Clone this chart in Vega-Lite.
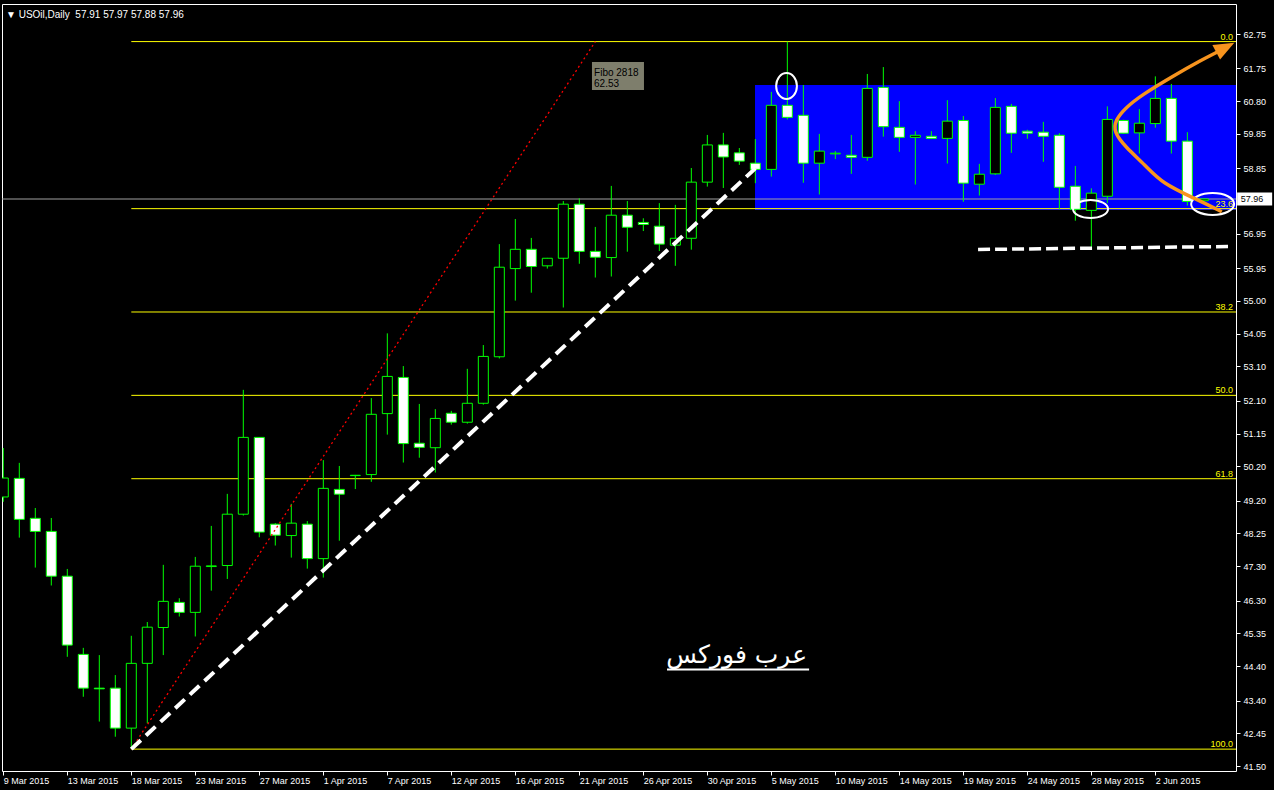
{
  "$schema": "https://vega.github.io/schema/vega-lite/v6.json",
  "autosize": {"type": "none"},
  "padding": {"left": 2, "top": 4, "right": 38, "bottom": 19},
  "width": 1234,
  "height": 767,
  "background": "black",
  "title": {"text": "▼ USOil,Daily\u00a0 57.91 57.97 57.88 57.96", "anchor": "start", "frame": "group", "orient": "top", "offset": -24, "dx": 4, "baseline": "alphabetic", "font": "Liberation Sans", "fontSize": 10, "fontWeight": "normal", "color": "white"},
  "config": {
    "view": {"stroke": "white", "strokeWidth": 1},
    "scale": {"continuousPadding": 0},
    "axis": {"domain": false, "grid": false, "tickColor": "white", "labelColor": "white", "labelFont": "Liberation Sans", "labelFontSize": 9, "tickSize": 4, "labelOverlap": false, "labelBound": false, "labelFlush": false}
  },
  "datasets": {
    "bars": [
      {"i": 0, "date": "9 Mar 2015", "o": 49.31, "h": 50.73, "l": 49.17, "c": 49.86},
      {"i": 1, "date": "10 Mar 2015", "o": 49.85, "h": 50.30, "l": 48.13, "c": 48.66},
      {"i": 2, "date": "11 Mar 2015", "o": 48.69, "h": 48.99, "l": 47.26, "c": 48.31},
      {"i": 3, "date": "12 Mar 2015", "o": 48.31, "h": 48.70, "l": 46.74, "c": 47.01},
      {"i": 4, "date": "13 Mar 2015", "o": 47.01, "h": 47.22, "l": 44.67, "c": 45.01},
      {"i": 5, "date": "15 Mar 2015", "o": 44.74, "h": 44.93, "l": 43.51, "c": 43.76},
      {"i": 6, "date": "16 Mar 2015", "o": 43.76, "h": 44.72, "l": 42.79, "c": 43.74},
      {"i": 7, "date": "17 Mar 2015", "o": 43.76, "h": 44.14, "l": 42.35, "c": 42.60},
      {"i": 8, "date": "18 Mar 2015", "o": 42.60, "h": 45.28, "l": 41.99, "c": 44.48},
      {"i": 9, "date": "19 Mar 2015", "o": 44.48, "h": 45.68, "l": 42.74, "c": 45.53},
      {"i": 10, "date": "20 Mar 2015", "o": 45.52, "h": 47.34, "l": 44.72, "c": 46.28},
      {"i": 11, "date": "22 Mar 2015", "o": 46.25, "h": 46.37, "l": 45.84, "c": 45.96},
      {"i": 12, "date": "23 Mar 2015", "o": 45.96, "h": 47.57, "l": 45.26, "c": 47.30},
      {"i": 13, "date": "24 Mar 2015", "o": 47.29, "h": 48.47, "l": 46.59, "c": 47.31},
      {"i": 14, "date": "25 Mar 2015", "o": 47.32, "h": 49.40, "l": 46.93, "c": 48.81},
      {"i": 15, "date": "26 Mar 2015", "o": 48.81, "h": 52.42, "l": 48.77, "c": 51.04},
      {"i": 16, "date": "27 Mar 2015", "o": 51.04, "h": 51.05, "l": 48.14, "c": 48.29},
      {"i": 17, "date": "29 Mar 2015", "o": 48.52, "h": 48.55, "l": 47.90, "c": 48.20},
      {"i": 18, "date": "30 Mar 2015", "o": 48.19, "h": 49.11, "l": 47.55, "c": 48.55},
      {"i": 19, "date": "31 Mar 2015", "o": 48.52, "h": 48.61, "l": 47.23, "c": 47.52},
      {"i": 20, "date": "1 Apr 2015", "o": 47.52, "h": 50.38, "l": 46.97, "c": 49.56},
      {"i": 21, "date": "2 Apr 2015", "o": 49.53, "h": 50.21, "l": 48.04, "c": 49.39},
      {"i": 22, "date": "5 Apr 2015", "o": 49.93, "h": 49.95, "l": 49.54, "c": 49.94},
      {"i": 23, "date": "6 Apr 2015", "o": 49.96, "h": 52.18, "l": 49.75, "c": 51.71},
      {"i": 24, "date": "7 Apr 2015", "o": 51.73, "h": 54.06, "l": 51.12, "c": 52.81},
      {"i": 25, "date": "8 Apr 2015", "o": 52.78, "h": 53.11, "l": 50.31, "c": 50.86},
      {"i": 26, "date": "9 Apr 2015", "o": 50.87, "h": 52.01, "l": 50.45, "c": 50.75},
      {"i": 27, "date": "10 Apr 2015", "o": 50.74, "h": 51.86, "l": 50.02, "c": 51.59},
      {"i": 28, "date": "12 Apr 2015", "o": 51.74, "h": 51.81, "l": 51.41, "c": 51.48},
      {"i": 29, "date": "13 Apr 2015", "o": 51.48, "h": 53.03, "l": 51.44, "c": 52.03},
      {"i": 30, "date": "14 Apr 2015", "o": 52.03, "h": 53.72, "l": 51.99, "c": 53.39},
      {"i": 31, "date": "15 Apr 2015", "o": 53.38, "h": 56.65, "l": 53.33, "c": 55.98},
      {"i": 32, "date": "16 Apr 2015", "o": 55.94, "h": 57.38, "l": 55.01, "c": 56.50},
      {"i": 33, "date": "17 Apr 2015", "o": 56.50, "h": 56.83, "l": 55.24, "c": 56.00},
      {"i": 34, "date": "19 Apr 2015", "o": 56.02, "h": 56.25, "l": 55.94, "c": 56.24},
      {"i": 35, "date": "20 Apr 2015", "o": 56.24, "h": 57.90, "l": 54.81, "c": 57.81},
      {"i": 36, "date": "21 Apr 2015", "o": 57.81, "h": 57.98, "l": 56.08, "c": 56.44},
      {"i": 37, "date": "22 Apr 2015", "o": 56.44, "h": 57.15, "l": 55.68, "c": 56.27},
      {"i": 38, "date": "23 Apr 2015", "o": 56.26, "h": 58.34, "l": 55.71, "c": 57.49},
      {"i": 39, "date": "24 Apr 2015", "o": 57.49, "h": 57.90, "l": 56.43, "c": 57.14},
      {"i": 40, "date": "26 Apr 2015", "o": 57.28, "h": 57.40, "l": 57.03, "c": 57.22},
      {"i": 41, "date": "27 Apr 2015", "o": 57.17, "h": 57.84, "l": 56.45, "c": 56.65},
      {"i": 42, "date": "28 Apr 2015", "o": 56.62, "h": 57.79, "l": 56.02, "c": 56.82},
      {"i": 43, "date": "29 Apr 2015", "o": 56.82, "h": 58.86, "l": 56.49, "c": 58.45},
      {"i": 44, "date": "30 Apr 2015", "o": 58.45, "h": 59.82, "l": 58.32, "c": 59.53},
      {"i": 45, "date": "1 May 2015", "o": 59.53, "h": 59.88, "l": 58.28, "c": 59.18},
      {"i": 46, "date": "3 May 2015", "o": 59.30, "h": 59.44, "l": 58.95, "c": 59.06},
      {"i": 47, "date": "4 May 2015", "o": 59.00, "h": 59.70, "l": 58.42, "c": 58.82},
      {"i": 48, "date": "5 May 2015", "o": 58.82, "h": 61.07, "l": 58.61, "c": 60.68},
      {"i": 49, "date": "6 May 2015", "o": 60.68, "h": 62.53, "l": 60.27, "c": 60.33},
      {"i": 50, "date": "7 May 2015", "o": 60.39, "h": 61.27, "l": 58.43, "c": 59.00},
      {"i": 51, "date": "8 May 2015", "o": 59.00, "h": 59.85, "l": 58.09, "c": 59.35},
      {"i": 52, "date": "10 May 2015", "o": 59.27, "h": 59.35, "l": 59.12, "c": 59.29},
      {"i": 53, "date": "11 May 2015", "o": 59.23, "h": 59.82, "l": 58.69, "c": 59.17},
      {"i": 54, "date": "12 May 2015", "o": 59.17, "h": 61.59, "l": 59.07, "c": 61.17},
      {"i": 55, "date": "13 May 2015", "o": 61.20, "h": 61.79, "l": 59.77, "c": 60.06},
      {"i": 56, "date": "14 May 2015", "o": 60.04, "h": 60.80, "l": 59.33, "c": 59.75},
      {"i": 57, "date": "15 May 2015", "o": 59.75, "h": 59.93, "l": 58.38, "c": 59.81},
      {"i": 58, "date": "17 May 2015", "o": 59.78, "h": 59.93, "l": 59.71, "c": 59.72},
      {"i": 59, "date": "18 May 2015", "o": 59.72, "h": 60.83, "l": 58.99, "c": 60.22},
      {"i": 60, "date": "19 May 2015", "o": 60.24, "h": 60.37, "l": 57.88, "c": 58.42},
      {"i": 61, "date": "20 May 2015", "o": 58.39, "h": 58.98, "l": 58.06, "c": 58.68},
      {"i": 62, "date": "21 May 2015", "o": 58.69, "h": 60.89, "l": 58.66, "c": 60.62},
      {"i": 63, "date": "22 May 2015", "o": 60.65, "h": 60.72, "l": 59.30, "c": 59.87},
      {"i": 64, "date": "24 May 2015", "o": 59.93, "h": 59.97, "l": 59.71, "c": 59.87},
      {"i": 65, "date": "25 May 2015", "o": 59.90, "h": 60.20, "l": 59.04, "c": 59.78},
      {"i": 66, "date": "26 May 2015", "o": 59.81, "h": 59.87, "l": 57.66, "c": 58.30},
      {"i": 67, "date": "27 May 2015", "o": 58.33, "h": 58.92, "l": 57.33, "c": 57.66},
      {"i": 68, "date": "28 May 2015", "o": 57.63, "h": 58.27, "l": 56.53, "c": 58.13},
      {"i": 69, "date": "29 May 2015", "o": 58.04, "h": 60.65, "l": 57.84, "c": 60.27},
      {"i": 70, "date": "31 May 2015", "o": 60.24, "h": 60.26, "l": 59.85, "c": 59.87},
      {"i": 71, "date": "1 Jun 2015", "o": 59.88, "h": 60.57, "l": 59.28, "c": 60.16},
      {"i": 72, "date": "2 Jun 2015", "o": 60.15, "h": 61.52, "l": 60.03, "c": 60.88},
      {"i": 73, "date": "3 Jun 2015", "o": 60.88, "h": 61.30, "l": 59.28, "c": 59.64},
      {"i": 74, "date": "4 Jun 2015", "o": 59.64, "h": 59.90, "l": 57.77, "c": 57.89},
      {"i": 75, "date": "5 Jun 2015", "o": 57.91, "h": 57.97, "l": 57.88, "c": 57.96}
    ],
    "fibo": [
      {"level": "0.0", "p": 62.53},
      {"level": "23.6", "p": 57.68},
      {"level": "38.2", "p": 54.68},
      {"level": "50.0", "p": 52.26},
      {"level": "61.8", "p": 49.84},
      {"level": "100.0", "p": 41.99}
    ],
    "curve": [
      {"k": 1, "x": 76.15, "p": 57.59},
      {"k": 2, "x": 74.67, "p": 57.93},
      {"k": 3, "x": 72.4, "p": 58.42},
      {"k": 4, "x": 71.36, "p": 58.95},
      {"k": 5, "x": 70.11, "p": 59.48},
      {"k": 6, "x": 69.4, "p": 59.91},
      {"k": 7, "x": 69.5, "p": 60.25},
      {"k": 8, "x": 70.11, "p": 60.6},
      {"k": 9, "x": 71.15, "p": 60.98},
      {"k": 10, "x": 73.03, "p": 61.51},
      {"k": 11, "x": 74.9, "p": 62.0},
      {"k": 12, "x": 75.92, "p": 62.24}
    ]
  },
  "layer": [
    {
      "data": {"values": [{"x1": 46.98, "x2": 78, "p1": 57.64, "p2": 61.27}]},
      "mark": {"type": "rect", "fill": "#0000FF", "clip": true},
      "encoding": {
        "x": {"field": "x1", "type": "quantitative", "title": null, "scale": {"domain": [-0.081, 77.04], "nice": false, "zero": false, "padding": 0},
              "axis": {"title": null, "values": [0, 4, 8, 12, 16, 20, 24, 28, 32, 36, 40, 44, 48, 52, 56, 60, 64, 68, 72], "tickCount": 40, "labelAlign": "left", "labelBaseline": "top", "labelPadding": 1, "labelOffset": 0, "labelOverlap": false, "labelBound": false, "labelFlush": false,
                       "labelExpr": "['9 Mar 2015','13 Mar 2015','18 Mar 2015','23 Mar 2015','27 Mar 2015','1 Apr 2015','7 Apr 2015','12 Apr 2015','16 Apr 2015','21 Apr 2015','26 Apr 2015','30 Apr 2015','5 May 2015','10 May 2015','14 May 2015','19 May 2015','24 May 2015','28 May 2015','2 Jun 2015'][round(datum.value/4)]"}},
        "x2": {"field": "x2"},
        "y": {"field": "p1", "type": "quantitative", "title": null, "scale": {"domain": [41.355, 63.621], "nice": false, "zero": false, "padding": 0},
              "axis": {"title": null, "orient": "right", "values": [62.75, 61.75, 60.80, 59.85, 58.85, 56.95, 55.95, 55.00, 54.05, 53.10, 52.10, 51.15, 50.20, 49.20, 48.25, 47.30, 46.30, 45.35, 44.40, 43.40, 42.45, 41.50], "tickCount": 40, "format": ".2f", "labelPadding": 3, "labelBaseline": "middle", "labelOverlap": false, "labelFlush": false, "labelBound": false}},
        "y2": {"field": "p2"}
      }
    },
    {
      "data": {"name": "fibo"},
      "mark": {"type": "rule", "color": "#FFFF00", "strokeWidth": 1, "clip": true},
      "encoding": {
        "x": {"datum": 8, "type": "quantitative", "title": null, "scale": {"domain": [-0.081, 77.04], "nice": false, "zero": false, "padding": 0}},
        "x2": {"datum": 78},
        "y": {"field": "p", "type": "quantitative", "title": null, "scale": {"domain": [41.355, 63.621], "nice": false, "zero": false, "padding": 0}}
      }
    },
    {
      "data": {"name": "fibo"},
      "mark": {"type": "text", "color": "#FFFF00", "font": "Liberation Sans", "fontSize": 9, "align": "right", "baseline": "alphabetic", "dy": -2},
      "encoding": {
        "x": {"datum": 76.86, "type": "quantitative", "title": null, "scale": {"domain": [-0.081, 77.04], "nice": false, "zero": false, "padding": 0}},
        "y": {"field": "p", "type": "quantitative", "title": null, "scale": {"domain": [41.355, 63.621], "nice": false, "zero": false, "padding": 0}},
        "text": {"field": "level"}
      }
    },
    {
      "data": {"values": [{"p": 57.96}]},
      "mark": {"type": "rule", "color": "#A0A0A0", "strokeWidth": 1},
      "encoding": {
        "y": {"field": "p", "type": "quantitative", "title": null, "scale": {"domain": [41.355, 63.621], "nice": false, "zero": false, "padding": 0}}
      }
    },
    {
      "data": {"name": "bars"},
      "mark": {"type": "rule", "color": "#00FF00", "strokeWidth": 1, "clip": true},
      "encoding": {
        "x": {"field": "i", "type": "quantitative", "title": null, "scale": {"domain": [-0.081, 77.04], "nice": false, "zero": false, "padding": 0}},
        "y": {"field": "l", "type": "quantitative", "title": null, "scale": {"domain": [41.355, 63.621], "nice": false, "zero": false, "padding": 0}},
        "y2": {"field": "h"}
      }
    },
    {
      "data": {"name": "bars"},
      "mark": {"type": "bar", "width": 10, "stroke": "#00FF00", "strokeWidth": 1, "clip": true},
      "encoding": {
        "x": {"field": "i", "type": "quantitative", "title": null, "scale": {"domain": [-0.081, 77.04], "nice": false, "zero": false, "padding": 0}},
        "y": {"field": "o", "type": "quantitative", "title": null, "scale": {"domain": [41.355, 63.621], "nice": false, "zero": false, "padding": 0}},
        "y2": {"field": "c"},
        "fill": {"condition": {"test": "datum.c < datum.o", "value": "white"}, "value": "black"}
      }
    },
    {
      "data": {"values": [{"x": 8, "p": 41.99}, {"x": 37, "p": 62.53}]},
      "mark": {"type": "line", "color": "#FF0000", "strokeWidth": 1.3, "strokeDash": [2, 3]},
      "encoding": {
        "x": {"field": "x", "type": "quantitative", "title": null, "scale": {"domain": [-0.081, 77.04], "nice": false, "zero": false, "padding": 0}},
        "y": {"field": "p", "type": "quantitative", "title": null, "scale": {"domain": [41.355, 63.621], "nice": false, "zero": false, "padding": 0}}
      }
    },
    {
      "data": {"values": [{"x": 8, "p": 41.99}, {"x": 47, "p": 58.85}]},
      "mark": {"type": "line", "color": "white", "strokeWidth": 4, "strokeDash": [13, 7], "strokeCap": "butt"},
      "encoding": {
        "x": {"field": "x", "type": "quantitative", "title": null, "scale": {"domain": [-0.081, 77.04], "nice": false, "zero": false, "padding": 0}},
        "y": {"field": "p", "type": "quantitative", "title": null, "scale": {"domain": [41.355, 63.621], "nice": false, "zero": false, "padding": 0}}
      }
    },
    {
      "data": {"values": [{"x": 60.92, "p": 56.494}, {"x": 76.54, "p": 56.581}]},
      "mark": {"type": "line", "color": "white", "strokeWidth": 3.5, "strokeDash": [12, 5], "strokeCap": "butt"},
      "encoding": {
        "x": {"field": "x", "type": "quantitative", "title": null, "scale": {"domain": [-0.081, 77.04], "nice": false, "zero": false, "padding": 0}},
        "y": {"field": "p", "type": "quantitative", "title": null, "scale": {"domain": [41.355, 63.621], "nice": false, "zero": false, "padding": 0}}
      }
    },
    {
      "data": {"values": [{"x": 48.95, "p": 61.24}]},
      "mark": {"type": "point", "shape": "M-0.8,0 A0.8,1 0 1,1 0.8,0 A0.8,1 0 1,1 -0.8,0 Z", "size": 676, "filled": false, "stroke": "white", "strokeWidth": 2, "opacity": 1},
      "encoding": {
        "x": {"field": "x", "type": "quantitative", "title": null, "scale": {"domain": [-0.081, 77.04], "nice": false, "zero": false, "padding": 0}},
        "y": {"field": "p", "type": "quantitative", "title": null, "scale": {"domain": [41.355, 63.621], "nice": false, "zero": false, "padding": 0}}
      }
    },
    {
      "data": {"values": [{"x": 67.95, "p": 57.67}]},
      "mark": {"type": "point", "shape": "M-1,0 A1,0.51 0 1,1 1,0 A1,0.51 0 1,1 -1,0 Z", "size": 1225, "filled": false, "stroke": "white", "strokeWidth": 2, "opacity": 1},
      "encoding": {
        "x": {"field": "x", "type": "quantitative", "title": null, "scale": {"domain": [-0.081, 77.04], "nice": false, "zero": false, "padding": 0}},
        "y": {"field": "p", "type": "quantitative", "title": null, "scale": {"domain": [41.355, 63.621], "nice": false, "zero": false, "padding": 0}}
      }
    },
    {
      "data": {"values": [{"x": 75.58, "p": 57.815}]},
      "mark": {"type": "point", "shape": "M-1,0 A1,0.51 0 1,1 1,0 A1,0.51 0 1,1 -1,0 Z", "size": 1849, "filled": false, "stroke": "white", "strokeWidth": 2, "opacity": 1},
      "encoding": {
        "x": {"field": "x", "type": "quantitative", "title": null, "scale": {"domain": [-0.081, 77.04], "nice": false, "zero": false, "padding": 0}},
        "y": {"field": "p", "type": "quantitative", "title": null, "scale": {"domain": [41.355, 63.621], "nice": false, "zero": false, "padding": 0}}
      }
    },
    {
      "data": {"name": "curve"},
      "mark": {"type": "line", "color": "#F7941E", "strokeWidth": 3.5, "interpolate": "basis"},
      "encoding": {
        "x": {"field": "x", "type": "quantitative", "title": null, "scale": {"domain": [-0.081, 77.04], "nice": false, "zero": false, "padding": 0}},
        "y": {"field": "p", "type": "quantitative", "title": null, "scale": {"domain": [41.355, 63.621], "nice": false, "zero": false, "padding": 0}},
        "order": {"field": "k"}
      }
    },
    {
      "data": {"values": [{"x": 76.37, "p": 62.36}]},
      "mark": {"type": "point", "shape": "M0,-1 L0.8,1 L-0.8,1 Z", "size": 420, "filled": true, "color": "#F7941E", "angle": 62, "opacity": 1},
      "encoding": {
        "x": {"field": "x", "type": "quantitative", "title": null, "scale": {"domain": [-0.081, 77.04], "nice": false, "zero": false, "padding": 0}},
        "y": {"field": "p", "type": "quantitative", "title": null, "scale": {"domain": [41.355, 63.621], "nice": false, "zero": false, "padding": 0}}
      }
    },
    {
      "data": {"values": [{"x": 45.83, "p": 44.49, "t": "عرب فوركس"}]},
      "mark": {"type": "text", "color": "white", "font": "DejaVu Sans", "fontSize": 25, "align": "center", "baseline": "alphabetic"},
      "encoding": {
        "x": {"field": "x", "type": "quantitative", "title": null, "scale": {"domain": [-0.081, 77.04], "nice": false, "zero": false, "padding": 0}},
        "y": {"field": "p", "type": "quantitative", "title": null, "scale": {"domain": [41.355, 63.621], "nice": false, "zero": false, "padding": 0}},
        "text": {"field": "t"}
      }
    },
    {
      "data": {"values": [{"x1": 41.48, "x2": 50.36, "p": 44.30}]},
      "mark": {"type": "rule", "color": "white", "strokeWidth": 2},
      "encoding": {
        "x": {"field": "x1", "type": "quantitative", "title": null, "scale": {"domain": [-0.081, 77.04], "nice": false, "zero": false, "padding": 0}},
        "x2": {"field": "x2"},
        "y": {"field": "p", "type": "quantitative", "title": null, "scale": {"domain": [41.355, 63.621], "nice": false, "zero": false, "padding": 0}}
      }
    },
    {
      "data": {"values": [{"x1": 36.79, "x2": 40.04, "p1": 61.124, "p2": 61.937}]},
      "mark": {"type": "rect", "fill": "#7E7E6C"},
      "encoding": {
        "x": {"field": "x1", "type": "quantitative", "title": null, "scale": {"domain": [-0.081, 77.04], "nice": false, "zero": false, "padding": 0}},
        "x2": {"field": "x2"},
        "y": {"field": "p1", "type": "quantitative", "title": null, "scale": {"domain": [41.355, 63.621], "nice": false, "zero": false, "padding": 0}},
        "y2": {"field": "p2"}
      }
    },
    {
      "data": {"values": [{"x": 36.92, "p": 61.545, "t": "Fibo 2818"}, {"x": 36.92, "p": 61.211, "t": "62.53"}]},
      "mark": {"type": "text", "color": "black", "font": "Liberation Sans", "fontSize": 10, "align": "left", "baseline": "alphabetic"},
      "encoding": {
        "x": {"field": "x", "type": "quantitative", "title": null, "scale": {"domain": [-0.081, 77.04], "nice": false, "zero": false, "padding": 0}},
        "y": {"field": "p", "type": "quantitative", "title": null, "scale": {"domain": [41.355, 63.621], "nice": false, "zero": false, "padding": 0}},
        "text": {"field": "t"}
      }
    },
    {
      "data": {"values": [{"x1": 77.11, "x2": 79.3, "p1": 57.771, "p2": 58.149}]},
      "mark": {"type": "rect", "fill": "white", "clip": false},
      "encoding": {
        "x": {"field": "x1", "type": "quantitative", "title": null, "scale": {"domain": [-0.081, 77.04], "nice": false, "zero": false, "padding": 0}},
        "x2": {"field": "x2"},
        "y": {"field": "p1", "type": "quantitative", "title": null, "scale": {"domain": [41.355, 63.621], "nice": false, "zero": false, "padding": 0}},
        "y2": {"field": "p2"}
      }
    },
    {
      "data": {"values": [{"x": 77.33, "p": 57.96, "t": "57.96"}]},
      "mark": {"type": "text", "color": "black", "font": "Liberation Sans", "fontSize": 9, "align": "left", "baseline": "middle"},
      "encoding": {
        "x": {"field": "x", "type": "quantitative", "title": null, "scale": {"domain": [-0.081, 77.04], "nice": false, "zero": false, "padding": 0}},
        "y": {"field": "p", "type": "quantitative", "title": null, "scale": {"domain": [41.355, 63.621], "nice": false, "zero": false, "padding": 0}},
        "text": {"field": "t"}
      }
    }
  ]
}
